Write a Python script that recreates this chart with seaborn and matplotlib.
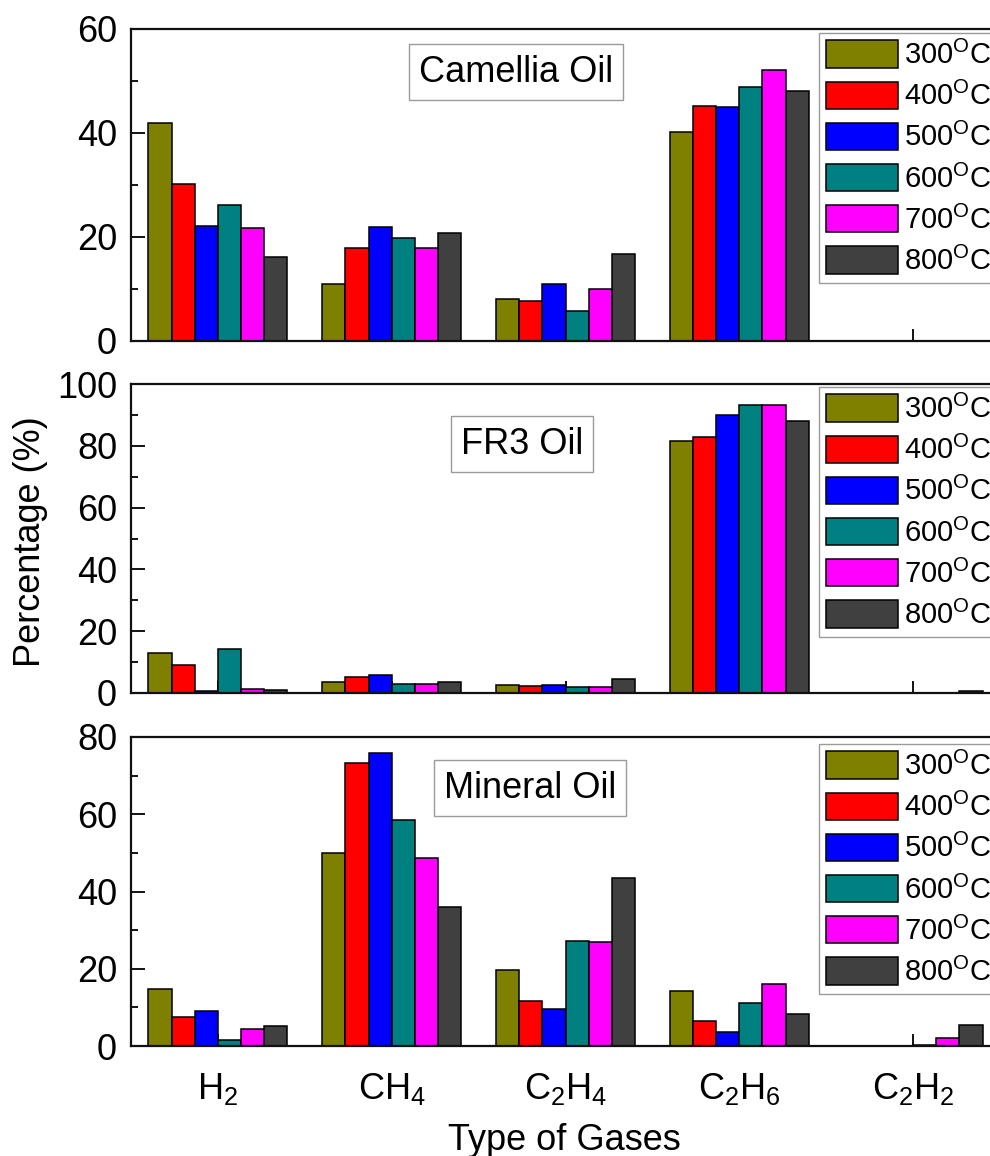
import numpy as np
import pandas as pd
import seaborn as sns
import matplotlib
matplotlib.use("Agg")
import matplotlib.pyplot as plt
from matplotlib.ticker import MultipleLocator

# ---- data -------------------------------------------------------------
gases = ["H2", "CH4", "C2H4", "C2H6", "C2H2"]
gas_labels = [r"H$_{\mathrm{2}}$", r"CH$_{\mathrm{4}}$",
              r"C$_{\mathrm{2}}$H$_{\mathrm{4}}$",
              r"C$_{\mathrm{2}}$H$_{\mathrm{6}}$",
              r"C$_{\mathrm{2}}$H$_{\mathrm{2}}$"]
temps = ["300", "400", "500", "600", "700", "800"]

# percentage of each gas, one list per temperature (order of `gases`)
camellia_300 = [41.9, 11.0, 8.0, 40.1, 0.0]
camellia_400 = [30.2, 17.8, 7.6, 45.2, 0.0]
camellia_500 = [22.1, 22.0, 10.9, 45.0, 0.0]
camellia_600 = [26.1, 19.9, 5.8, 48.9, 0.0]
camellia_700 = [21.8, 17.8, 10.0, 52.2, 0.0]
camellia_800 = [16.1, 20.8, 16.7, 48.0, 0.0]

fr3_300 = [12.9, 3.4, 2.5, 81.4, 0.0]
fr3_400 = [9.1, 5.2, 2.4, 83.0, 0.0]
fr3_500 = [0.8, 5.9, 2.5, 90.1, 0.0]
fr3_600 = [14.2, 3.0, 1.8, 93.1, 0.0]
fr3_700 = [1.2, 3.0, 1.8, 93.1, 0.0]
fr3_800 = [1.0, 3.4, 4.5, 88.1, 0.5]

mineral_300 = [14.7, 49.9, 19.7, 14.2, 0.0]
mineral_400 = [7.6, 73.2, 11.7, 6.6, 0.0]
mineral_500 = [9.1, 75.8, 9.5, 3.5, 0.0]
mineral_600 = [1.6, 58.5, 27.3, 11.1, 0.3]
mineral_700 = [4.3, 48.7, 26.9, 16.0, 2.2]
mineral_800 = [5.2, 35.9, 43.4, 8.3, 5.4]

panel_names = ["Camellia Oil", "FR3 Oil", "Mineral Oil"]
panel_data = [
    [camellia_300, camellia_400, camellia_500, camellia_600, camellia_700, camellia_800],
    [fr3_300, fr3_400, fr3_500, fr3_600, fr3_700, fr3_800],
    [mineral_300, mineral_400, mineral_500, mineral_600, mineral_700, mineral_800],
]
y_limits = [60, 100, 80]

bar_colors = ["#808000", "#FF0000", "#0000FF", "#008080", "#FF00FF", "#404040"]

# ---- style ------------------------------------------------------------
sns.set_style("ticks")
plt.rcParams["font.family"] = ["Liberation Sans", "DejaVu Sans"]
plt.rcParams["mathtext.fontset"] = "custom"
plt.rcParams["mathtext.rm"] = "Liberation Sans"
plt.rcParams["mathtext.it"] = "Liberation Sans:italic"
plt.rcParams["mathtext.bf"] = "Liberation Sans:bold"
for key in ["text.color", "axes.labelcolor", "xtick.color", "ytick.color",
            "axes.edgecolor"]:
    plt.rcParams[key] = "black"

W, H = 990, 1156
fig = plt.figure(figsize=(W / 100, H / 100), dpi=100)
fig.patch.set_facecolor("white")

ax_left = 131 / W
ax_width = 869 / W
panel_px = [(29, 341), (384, 693), (737, 1046)]  # top, bottom in pixels
legend_tops = [33, 387, 744]
box_centers = [(516, 72), (522, 444), (530, 788)]

temp_labels = [t + r"$^{\mathrm{O}}$C" for t in temps]

axes = []
for i, (name, series, ymax) in enumerate(zip(panel_names, panel_data, y_limits)):
    top, bot = panel_px[i]
    ax = fig.add_axes([ax_left, 1 - bot / H, ax_width, (bot - top) / H])
    axes.append(ax)

    df = pd.DataFrame({
        "gas": np.repeat([gases], len(temps), axis=0).ravel(),
        "temp": np.repeat(temp_labels, len(gases)),
        "value": np.concatenate(series),
    })
    sns.barplot(data=df, x="gas", y="value", hue="temp", order=gases,
                hue_order=temp_labels, palette=bar_colors, width=0.8,
                saturation=1, edgecolor="black", linewidth=1.1,
                errorbar=None, ax=ax)

    ax.set_xlim(-0.5, 4.5)
    ax.set_ylim(0, ymax)
    ax.yaxis.set_major_locator(MultipleLocator(20))
    ax.yaxis.set_minor_locator(MultipleLocator(10))
    ax.tick_params(axis="y", which="major", direction="in", length=10, width=1.3,
                   labelsize=26, pad=10)
    ax.tick_params(axis="y", which="minor", direction="in", length=5, width=1.3)
    ax.tick_params(axis="x", which="major", direction="in", length=9, width=1.3,
                   labelsize=26, pad=18)
    ax.set_xticks(range(len(gases)))
    if i == 2:
        ax.set_xticklabels(gas_labels)
    else:
        ax.set_xticklabels([])
    for sp in ax.spines.values():
        sp.set_linewidth(1.6)
        sp.set_color("#111111")
    ax.set_xlabel("")
    ax.set_ylabel("")

    # legend of temperatures
    handles, labels = ax.get_legend_handles_labels()
    leg_x = (819 - 131) / 869
    leg_y = 1 - (legend_tops[i] - top) / (bot - top)
    leg = ax.legend(handles, labels, loc="upper left", bbox_to_anchor=(leg_x, leg_y),
                    fontsize=21, frameon=True, fancybox=False, framealpha=1,
                    edgecolor="#9a9a9a", borderpad=0.25, borderaxespad=0,
                    handlelength=2.45, handleheight=1.06, handletextpad=0.22,
                    labelspacing=0.4)
    leg.get_frame().set_linewidth(1.0)

    # oil name box
    cx, cy = box_centers[i]
    ax.text((cx - 131) / 869, (bot - cy) / (bot - top), name,
            transform=ax.transAxes, ha="center", va="center", fontsize=26,
            bbox=dict(boxstyle="square,pad=0.28", facecolor="white",
                      edgecolor="#9a9a9a", linewidth=1.0))

axes[1].set_ylabel("Percentage (%)", fontsize=26)
axes[1].yaxis.set_label_coords((48 - 131) / 869, 0.49)
axes[2].set_xlabel("Type of Gases", fontsize=26)
axes[2].xaxis.set_label_coords((564 - 131) / 869, (1046 - 1123) / 309)

fig.savefig("out.png", dpi=100, facecolor="white")
